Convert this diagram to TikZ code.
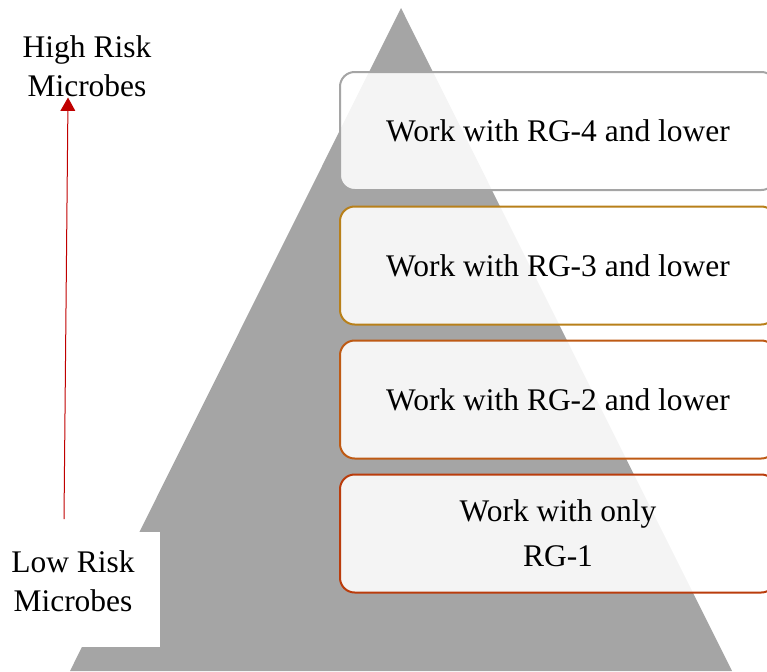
\documentclass[tikz,border=0pt]{standalone}
\usepackage{fontspec}
\setmainfont{Liberation Serif}
\usetikzlibrary{arrows.meta}

\definecolor{pyrgrey}{HTML}{A5A5A5}
\definecolor{rgfour}{HTML}{A5A5A5}
\definecolor{rgthree}{HTML}{B8801A}
\definecolor{rgtwo}{HTML}{BE5A14}
\definecolor{rgone}{HTML}{BA3C0C}
\definecolor{riskred}{HTML}{C00000}

\tikzset{
  rgbox/.style={draw=#1, line width=1.5pt, rounded corners=11pt,
    fill=white, fill opacity=0.88, text opacity=1,
    minimum width=327pt, minimum height=88.5pt, inner sep=0pt,
    align=center, font=\fontsize{23.6}{34}\selectfont},
  risklabel/.style={align=center, inner sep=0pt,
    font=\fontsize{23.6}{29.5}\selectfont}
}

\begin{document}
\begin{tikzpicture}[x=0.75pt, y=-0.75pt]
				\useasboundingbox (0,0) rectangle (767,671);

				% pyramid
				\fill[pyrgrey] (401,8) -- (732,671) -- (70,671) -- cycle;

				% risk groups
				\node[rgbox=rgfour]  (rgf) at (558,131)   {Work with RG-4 and lower};
				\node[rgbox=rgthree] (rgt) at (558,265.5) {Work with RG-3 and lower};
				\node[rgbox=rgtwo]   (rgw) at (558,399.5) {Work with RG-2 and lower};
				\node[rgbox=rgone]   (rgo) at (558,533.5) {Work with only\\RG-1};

				% axis labels
				\fill[white] (0,532) rectangle (160,647);
				\node[risklabel] (high) at (87,66.5) {High Risk\\Microbes};
				\node[risklabel] (low) at (73,581) {Low Risk\\Microbes};

				\coordinate (lowtop) at (64,519);
				\draw[riskred, line width=0.75pt, -{Triangle[width=11pt,length=10pt]}]
					(lowtop) -- (high.south -| 68,0);
			\end{tikzpicture}
\end{document}
